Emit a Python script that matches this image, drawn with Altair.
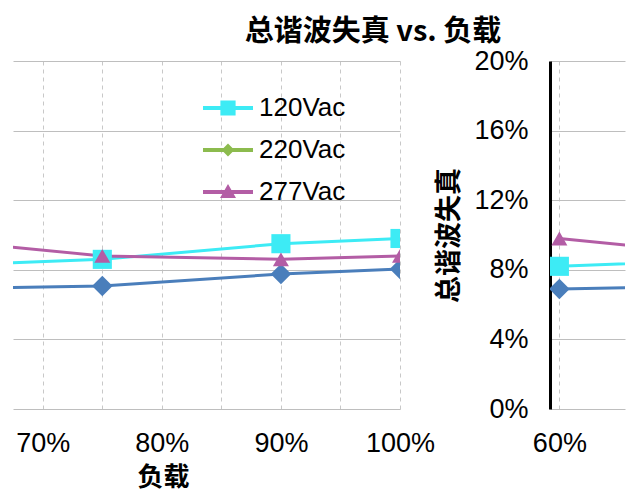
import altair as alt
import pandas as pd

# ---- data ----
loads = [60, 75, 90, 100]
series_names = ["100Vac", "120Vac", "277Vac"]
thd_100 = [0.069, 0.0707, 0.0776, 0.0805]
thd_120 = [0.082, 0.086, 0.095, 0.098]
thd_277 = [0.098, 0.088, 0.086, 0.088]

legend_names = ["120Vac", "220Vac", "277Vac"]
all_names = ["100Vac", "120Vac", "220Vac", "277Vac"]
all_colors = ["#4A7EBB", "#3DEBF5", "#8CBB4E", "#B35DA5"]
all_shapes = ["diamond", "square", "diamond", "triangle-up"]
all_sizes = [420, 256, 300, 260]
legend_colors = ["#3DEBF5", "#8CBB4E", "#B35DA5"]
legend_paths = [
    "M-1.25,-0.1H1.25V0.1H-1.25Z M-0.38,-0.38H0.38V0.38H-0.38Z",
    "M-1.25,-0.1H1.25V0.1H-1.25Z M0,-0.32L0.32,0L0,0.32L-0.32,0Z",
    "M-1.25,-0.1H1.25V0.1H-1.25Z M0,-0.4L0.4,0.3L-0.4,0.3Z",
]

y_ticks = [0, 0.04, 0.08, 0.12, 0.16, 0.20]
x_ticks_main = [70, 75, 80, 85, 90, 95, 100]
x_ticks_side = [60]

rows = []
for name, vals in zip(series_names, [thd_100, thd_120, thd_277]):
    for l, v in zip(loads, vals):
        rows.append({"load": l, "thd": v, "series": name})
df = pd.DataFrame(rows)
legend_df = pd.DataFrame({"series": legend_names, "load": [0, 0, 0], "thd": [0.1, 0.1, 0.1]})

LABEL_FONT = "Liberation Sans"
CJK = "Noto Sans CJK SC"


def panel(xdomain, xvals, xtitle, right, width, with_legend):
    xaxis_kw = dict(
        values=xvals,
        labelExpr="datum.value % 10 == 0 ? datum.value + '%' : ''",
        grid=True, gridDash=[4, 4], gridColor="#C8C8C8",
        ticks=False, domain=False,
        labelFontSize=27, labelFont=LABEL_FONT, labelColor="#000",
        labelPadding=21, labelFlush=False,
    )
    if xtitle:
        xaxis_kw.update(title=xtitle, titleFont=CJK, titleFontSize=26,
                        titleFontWeight="bold", titleColor="#000",
                        titlePadding=8, titleX=150, titleAlign="center")
    else:
        xaxis_kw.update(title=None)
    if right:
        yaxis = alt.Axis(values=y_ticks, format=".0%", labelFontSize=27,
                         labelFont=LABEL_FONT, labelColor="#000", labelPadding=22,
                         labelFlush=False, ticks=False, domain=True,
                         domainColor="#000", domainWidth=3, grid=True,
                         gridColor="#BEBEBE", title="总谐波失真", titleFont=CJK,
                         titleFontSize=27, titleFontWeight="bold",
                         titlePadding=10, titleColor="#000")
    else:
        yaxis = alt.Axis(values=y_ticks, labels=False, ticks=False, domain=False,
                         grid=True, gridColor="#BEBEBE", title=None)

    x = alt.X("load:Q", scale=alt.Scale(domain=xdomain, nice=False, zero=False),
              axis=alt.Axis(**xaxis_kw))
    y = alt.Y("thd:Q", scale=alt.Scale(domain=[0, 0.2], nice=False), axis=yaxis)
    col = alt.Color("series:N", scale=alt.Scale(domain=all_names, range=all_colors), legend=None)

    line = alt.Chart(df).mark_line(strokeWidth=3, clip=True).encode(x=x, y=y, color=col)
    pts = alt.Chart(df).mark_point(filled=True, opacity=1, clip=True).encode(
        x=x, y=y, color=col,
        shape=alt.Shape("series:N", scale=alt.Scale(domain=all_names, range=all_shapes), legend=None),
        size=alt.Size("series:N", scale=alt.Scale(domain=all_names, range=all_sizes), legend=None),
    )
    layers = [line, pts]
    if with_legend:
        leg = alt.Legend(title=None, orient="none", legendX=195, legendY=27,
                         labelFontSize=26, labelFont=LABEL_FONT, labelColor="#000",
                         symbolSize=1600, symbolStrokeWidth=0, rowPadding=9,
                         labelOffset=11, padding=0)
        lg = alt.Chart(legend_df).mark_point(filled=True, opacity=1, clip=True, size=1600).encode(
            x=x, y=y,
            color=alt.Color("series:N", scale=alt.Scale(domain=legend_names, range=legend_colors), legend=leg),
            shape=alt.Shape("series:N", scale=alt.Scale(domain=legend_names, range=legend_paths), legend=leg),
        )
        layers.append(lg)
    return alt.layer(*layers).resolve_scale(color="independent", shape="independent").properties(
        width=width, height=348)


left = panel([67.5, 100], x_ticks_main, "负载", False, 387, True)
right = panel([59.2, 65.6], x_ticks_side, None, True, 75, False)

chart = alt.hconcat(left, right, spacing=150, bounds="flush").properties(
    title=alt.TitleParams("总谐波失真 vs. 负载", font=CJK, fontSize=29,
                          fontWeight="bold", color="#000", anchor="middle",
                          dx=54, offset=0),
    background="white",
    padding={"left": 5, "top": 10, "right": 5, "bottom": 5},
).configure_view(stroke=None)

chart.save("out.html", embed_options={"renderer": "svg", "actions": False})
